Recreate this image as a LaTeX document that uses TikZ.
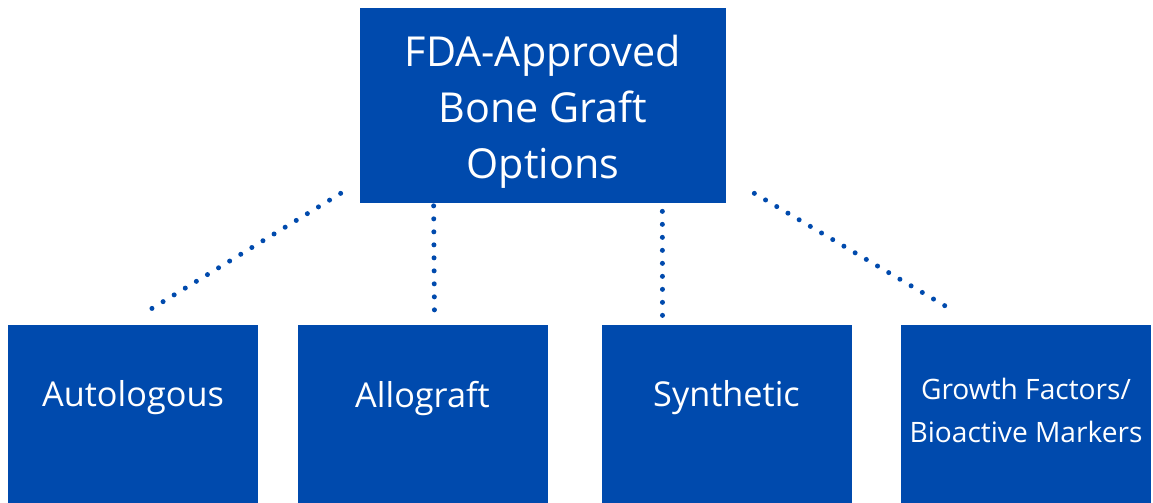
\documentclass[tikz,border=0pt]{standalone}
\usepackage{fontspec}
\setmainfont{Open Sans}
\usepackage{xcolor}
\usepackage{tikz}
\usetikzlibrary{positioning}
\definecolor{graftblue}{RGB}{0,74,173}
\tikzstyle{head} = [rectangle, minimum width=7.32cm, minimum height=3.9cm, text centered, fill=graftblue, text=white, font=\fontsize{23.5}{32}\selectfont]
\tikzstyle{option} = [rectangle, anchor=north, minimum width=5cm, minimum height=4cm, fill=graftblue]
\tikzstyle{optlabel} = [text=white, align=center, font=\fontsize{19.5}{24}\selectfont]
\tikzstyle{dots} = [graftblue, line width=0.1cm, line cap=round, dash pattern=on 0pt off 0.26cm]

\begin{document}
\begin{tikzpicture}
        \clip (0,0) rectangle (23.06,-10.04);
        \useasboundingbox (0,0) rectangle (23.06,-10.04);
        \node (graft) [head] at (10.86,-2.11) {\raisebox{-0.12cm}[\height][\depth]{\begin{tabular}{@{}c@{}}FDA-Approved\\Bone Graft\\Options\end{tabular}}};
        \node (auto) [option] at (2.66,-6.5) {};
        \node (allo) [option] at (8.45,-6.5) {};
        \node (synth) [option] at (14.53,-6.5) {};
        \node (growth) [option] at (20.52,-6.5) {};
        
        \node (autotext) [optlabel, below=1.46cm of auto.north, anchor=center] {Autologous};
        \node (allotext) [optlabel, below=1.46cm of allo.north, anchor=center] {Allograft};
        \node (synthtext) [optlabel, below=1.46cm of synth.north, anchor=center] {Synthetic};
        \node (growthtext) [optlabel, below=1.7cm of growth.north, anchor=center, font=\fontsize{16}{24.5}\selectfont] {Growth Factors/\\Bioactive Markers};
        
        \draw [dots] ([xshift=-0.38cm, yshift=0.2cm]graft.south west) -- ([xshift=0.36cm, yshift=0.32cm]auto.north);
        \draw [dots] ([xshift=1.48cm, yshift=-0.05cm]graft.south west) -- ([xshift=0.24cm, yshift=0.1cm]allo.north);
        \draw [dots] ([xshift=-1.28cm, yshift=-0.16cm]graft.south east) -- ([xshift=-1.28cm, yshift=0.08cm]synth.north);
        \draw [dots] ([xshift=0.56cm, yshift=0.2cm]graft.south east) -- ([xshift=-1.58cm, yshift=0.36cm]growth.north);
        % the option boxes run on past the bottom edge
\end{tikzpicture}
\end{document}
